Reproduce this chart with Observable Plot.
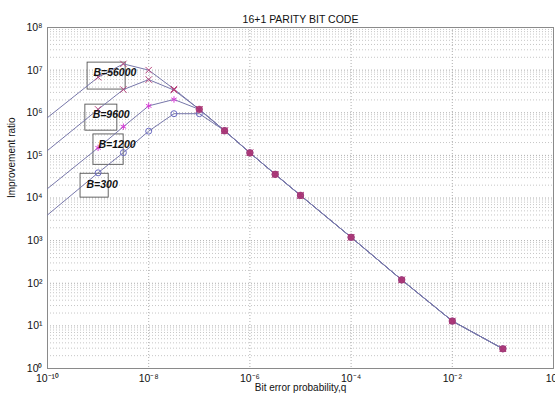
<!DOCTYPE html>
<html>
<head>
<meta charset="utf-8">
<script src="https://cdn.jsdelivr.net/npm/d3@7"></script>
<script src="https://cdn.jsdelivr.net/npm/@observablehq/plot@0.6"></script>
<style>
  html, body { margin: 0; padding: 0; background: #fff; }
  #chart svg { font-family: "Liberation Sans", Arial, sans-serif; }
</style>
</head>
<body>
<div id="chart"></div>
<script>
// Bit error probability q
const q = [1e-10, 1e-9, 3.16e-9, 1e-8, 3.16e-8, 1e-7, 3.16e-7, 1e-6, 3.16e-6, 1e-5, 1e-4, 1e-3, 1e-2, 1e-1];
// Improvement ratio per block length B
const r56000 = [7.7e5, 6.8e6, 1.4e7, 1.0e7, 3.6e6, 1.2e6, 3.8e5, 1.15e5, 3.6e4, 1.15e4, 1.2e3, 120, 13, 2.9];
const r9600  = [1.3e5, 1.2e6, 3.5e6, 6.0e6, 3.4e6, 1.2e6, 3.8e5, 1.15e5, 3.6e4, 1.15e4, 1.2e3, 120, 13, 2.9];
const r1200  = [1.66e4, 1.5e5, 4.7e5, 1.45e6, 2.05e6, 1.2e6, 3.8e5, 1.15e5, 3.6e4, 1.15e4, 1.2e3, 120, 13, 2.9];
const r300   = [4.0e3, 3.9e4, 1.16e5, 3.7e5, 9.5e5, 9.5e5, 3.8e5, 1.15e5, 3.6e4, 1.15e4, 1.2e3, 120, 13, 2.9];

const seriesNames = ["B=56000", "B=9600", "B=1200", "B=300"];
const seriesValues = [r56000, r9600, r1200, r300];

// Annotation labels (data coordinates)
const labelText = ["B=56000", "B=9600", "B=1200", "B=300"];
const labelQ = [8.1e-10, 7.8e-10, 1.02e-9, 5.9e-10];
const labelR = [8.7e6, 9.1e5, 1.78e5, 2.05e4];
const boxQ1 = [6.2e-10, 5.6e-10, 8.1e-10, 4.5e-10];
const boxQ2 = [3.5e-9, 2.4e-9, 3.2e-9, 1.62e-9];
const boxR1 = [3.5e6, 3.8e5, 6.0e4, 1.02e4];
const boxR2 = [1.5e7, 1.55e6, 3.1e5, 3.7e4];

const xTicks = [1e-10, 1e-8, 1e-6, 1e-4, 1e-2, 1];
const yTicks = [1, 1e1, 1e2, 1e3, 1e4, 1e5, 1e6, 1e7, 1e8];

const titleText = "16+1 PARITY BIT CODE";
const xLabel = "Bit error probability,q";
const yLabel = "Improvement ratio";

// styles (kept separate from data)
const markerSymbol = {"B=56000": "times", "B=9600": "times", "B=1200": "asterisk", "B=300": "circle"};
const markerColor = {"B=56000": "#b8457e", "B=9600": "#b8457e", "B=1200": "#d63cd6", "B=300": "#6a6ac0"};

const rows = seriesNames.flatMap((name, s) => q.map((qq, i) => ({name, q: qq, r: seriesValues[s][i]})));
const markerRows = rows.filter(d => d.q > q[0]);
const tailRows = rows.filter(d => d.name === "B=56000" && d.q >= 1e-7);

const sup = {"0":"⁰","1":"¹","2":"²","3":"³","4":"⁴","5":"⁵","6":"⁶","7":"⁷","8":"⁸","9":"⁹","-":"⁻"};
const fmt = v => "10" + String(Math.round(Math.log10(v))).split("").map(c => sup[c]).join("");

const minorY = [];
for (let k = 0; k < 8; k++) for (let m = 2; m <= 9; m++) minorY.push(m * 10 ** k);

const labels = labelText.map((t, i) => ({t, q: labelQ[i], r: labelR[i]}));
const boxes = labelText.map((t, i) => ({q1: boxQ1[i], q2: boxQ2[i], r1: boxR1[i], r2: boxR2[i]}));

const chart = Plot.plot({
  width: 555,
  height: 399,
  marginTop: 27,
  marginBottom: 31,
  marginLeft: 47,
  marginRight: 2,
  style: {fontSize: "10px", color: "#111", background: "#fff", overflow: "visible"},
  x: {type: "log", domain: [1e-10, 1]},
  y: {type: "log", domain: [1, 1e8]},
  marks: [
    Plot.ruleY(minorY, {stroke: "#b8b8b8", strokeWidth: 0.8, strokeDasharray: "1,2"}),
    Plot.ruleY(yTicks, {stroke: "#999", strokeWidth: 0.8, strokeDasharray: "1,2"}),
    Plot.ruleX(xTicks, {stroke: "#999", strokeWidth: 0.8, strokeDasharray: "1,2"}),
    Plot.frame({stroke: "#8a8a8a", strokeWidth: 1}),
    Plot.axisX({ticks: xTicks, tickFormat: fmt, tickSize: 0, tickPadding: 6, label: null, fontSize: 10.5}),
    Plot.axisY({ticks: yTicks, tickFormat: fmt, tickSize: 0, tickPadding: 5, label: null, fontSize: 10.5}),
    Plot.rect(boxes, {x1: "q1", x2: "q2", y1: "r1", y2: "r2", fill: "none", stroke: "#555", strokeWidth: 0.9}),
    Plot.line(rows, {x: "q", y: "r", z: "name", stroke: "#7777aa", strokeWidth: 1, clip: true}),
    Plot.dot(markerRows, {x: "q", y: "r", symbol: d => markerSymbol[d.name], stroke: d => markerColor[d.name], r: 3, strokeWidth: 1}),
    Plot.dot(tailRows, {x: "q", y: "r", symbol: "circle", fill: "#a6336f", r: 3.6, fillOpacity: 0.9}),
    Plot.text(labels, {x: "q", y: "r", text: "t", textAnchor: "start", fontWeight: "bold", fontStyle: "italic", fontSize: 10.5, fill: "#111"}),
    Plot.text([titleText], {frameAnchor: "top", dy: -12, fontSize: 10.5, fill: "#111"}),
    Plot.text([xLabel], {frameAnchor: "bottom", dy: 22, fontSize: 10, fill: "#111"}),
    Plot.text([yLabel], {frameAnchor: "left", dx: -36, rotate: -90, fontSize: 10, fill: "#111"})
  ]
});
document.getElementById("chart").appendChild(chart);
</script>
</body>
</html>
